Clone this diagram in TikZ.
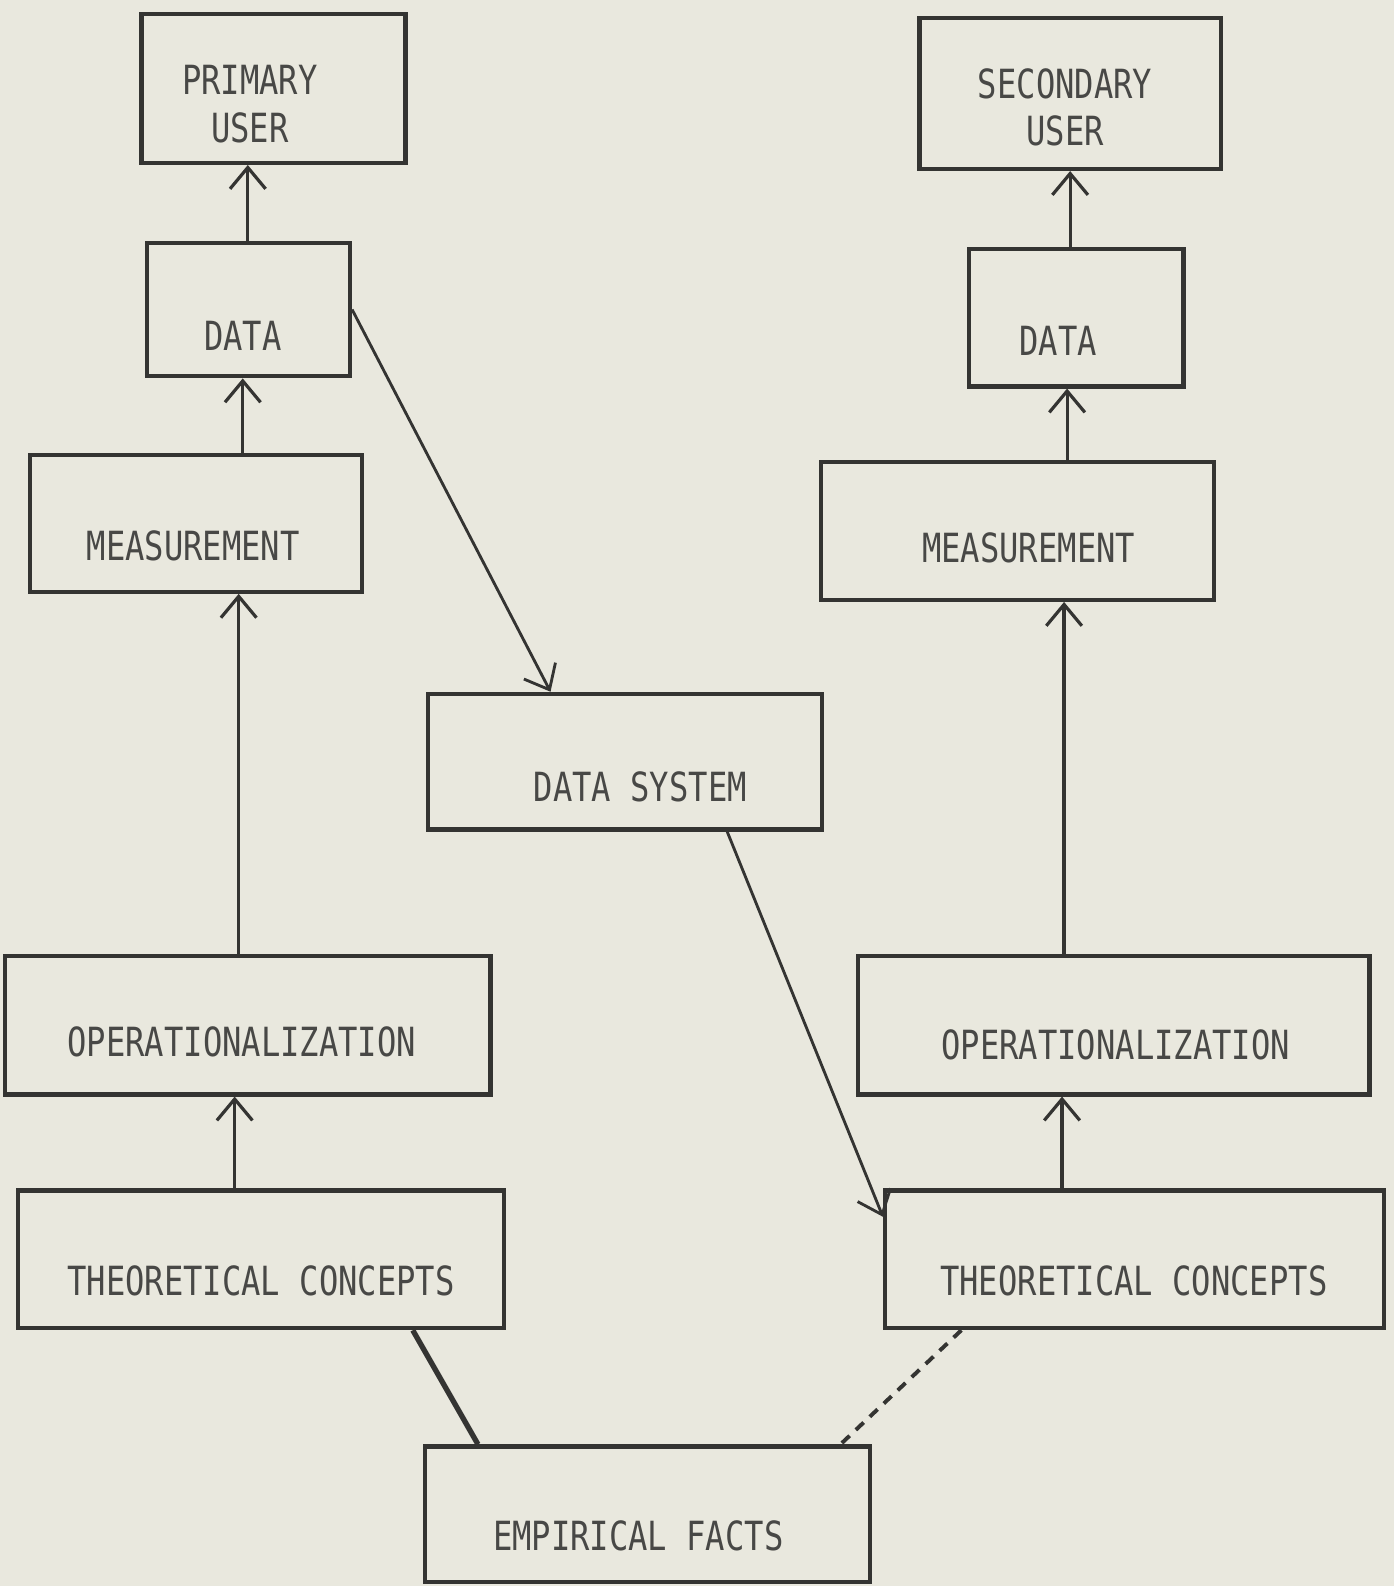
\documentclass[tikz,border=0pt]{standalone}
\usepackage{fontspec}
\usetikzlibrary{arrows.meta, positioning, fit, calc}
\newfontfamily\typewr{DejaVu Sans Mono}[FakeStretch=0.8]
\definecolor{paper}{RGB}{233,232,222}
\definecolor{ink}{RGB}{52,52,50}

\tikzset{
  box/.style={draw=ink, line width=1.2pt, inner sep=0pt},
  lbl/.style={font=\typewr\fontsize{11.3}{13.4}\selectfont, text=ink!90, inner sep=0pt, align=center},
  arr/.style={->, draw=ink, line width=0.9pt},
}

\begin{document}
\begin{tikzpicture}[x=0.01cm, y=-0.01cm, >={Straight Barb[length=6pt,width=10pt]}]
            \fill[paper] (0,0) rectangle (1378,1568);
            \useasboundingbox (0,0) rectangle (1378,1568);

            % left column
            \node[box, fit={(140,14) (401,161)}] (primary) {};
            \node[lbl] (primary-t) at (247,103) {PRIMARY\\USER};
            \node[box, fit={(145,240) (346,372)}] (dataL) {};
            \node[lbl] (dataL-t) at (240,332) {DATA};
            \node[box, fit={(30,450) (358,585)}] (measL) {};
            \node[lbl] (measL-t) at (191,540) {MEASUREMENT};
            \node[box, fit={(5,945) (485,1082)}] (operL) {};
            \node[lbl] (operL-t) at (239,1030) {OPERATIONALIZATION};
            \node[box, fit={(18,1177) (498,1313)}] (theoL) {};
            \node[lbl] (theoL-t) at (258,1266) {THEORETICAL CONCEPTS};

            % middle
            \node[box, fit={(423,686) (813,820)}] (dsys) {};
            \node[lbl] (dsys-t) at (633,778) {DATA SYSTEM};
            \node[box, fit={(420,1430) (860,1564)}] (facts) {};
            \node[lbl] (facts-t) at (631,1518) {EMPIRICAL FACTS};

            % right column
            \node[box, fit={(909,18) (1207,167)}] (secondary) {};
            \node[lbl] (secondary-t) at (1053,106) {SECONDARY\\USER};
            \node[box, fit={(958,246) (1170,382)}] (dataR) {};
            \node[lbl] (dataR-t) at (1046,337) {DATA};
            \node[box, fit={(812,457) (1200,593)}] (measR) {};
            \node[lbl] (measR-t) at (1017,542) {MEASUREMENT};
            \node[box, fit={(848,945) (1354,1082)}] (operR) {};
            \node[lbl] (operR-t) at (1103,1033) {OPERATIONALIZATION};
            \node[box, fit={(875,1177) (1368,1313)}] (theoR) {};
            \node[lbl] (theoR-t) at (1121,1266) {THEORETICAL CONCEPTS};

            % upward arrows
            \draw[arr] (dataL.north -| 245,0) -- (primary.south -| 245,0);
            \draw[arr] (measL.north -| 240,0) -- (dataL.south -| 240,0);
            \draw[arr] (operL.north -| 236,0) -- (measL.south -| 236,0);
            \draw[arr] (theoL.north -| 232,0) -- (operL.south -| 232,0);
            \draw[arr] (dataR.north -| 1058,0) -- (secondary.south -| 1058,0);
            \draw[arr] (measR.north -| 1055,0) -- (dataR.south -| 1055,0);
            \draw[arr] (operR.north -| 1052,0) -- (measR.south -| 1052,0);
            \draw[arr] (theoR.north -| 1050,0) -- (operR.south -| 1050,0);

            % through the data system
            \draw[arr, line width=0.8pt] (dataL.east) -- ($(dsys.north west)!0.313!(dsys.north east)$);
            \draw[arr, line width=0.8pt] ($(dsys.south west)!0.756!(dsys.south east)$) -- ($(theoR.north west)!0.2!(theoR.south west)$);

            % links to the facts
            \draw[ink, line width=1.5pt] ($(theoL.south west)!0.81!(theoL.south east)$) -- ($(facts.north west)!0.123!(facts.north east)$);
            \draw[ink, line width=1.1pt, dash pattern=on 3pt off 2.4pt] ($(theoR.south west)!0.156!(theoR.south east)$) -- ($(facts.north west)!0.93!(facts.north east)$);
        \end{tikzpicture}
\end{document}
